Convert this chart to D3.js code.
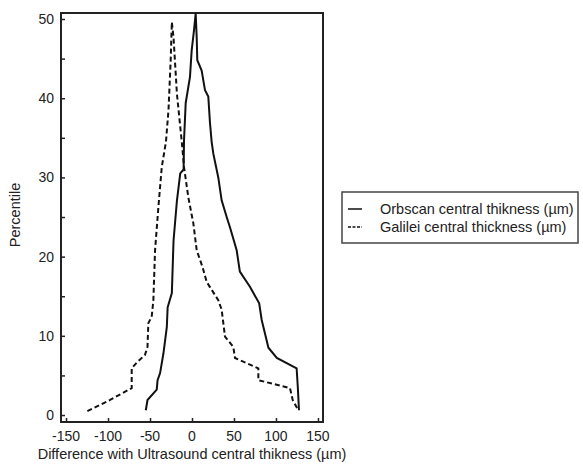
<!DOCTYPE html>
<html lang="en">
	<head>
		<meta charset="utf-8">
		<title>Mountain plot</title>
		<script type="text/javascript" src="https://d3js.org/d3.v7.min.js"></script>
		<style type="text/css">
		body { margin: 0; background: #fff; }
		text { font-family: "Liberation Sans", Arial, sans-serif; fill: #222; }
		</style>
	</head>
<body>
<script>

// data
var orbscanX = [-55, -53, -42, -41, -38, -34, -30, -29, -24, -22, -18, -14, -10, -9.5, -7.5, -2.4, -0.4, 2.4, 4.4,
                5.6, 6.3, 11.5, 15.5, 19.4, 21.4, 23.4, 25.4, 31.3, 35.3, 41.3, 45.2, 53.2, 57, 69, 80, 83, 91, 101, 124.6, 126, 127.4];
var orbscanY = [0.6, 1.9, 3.2, 4.4, 5.3, 7.8, 11.1, 13.6, 15.4, 22, 27, 30.5, 31, 34.7, 39.4, 42.7, 46, 48.6, 50.7,
                47.7, 44.8, 43.5, 41, 40.2, 36.9, 34.5, 33, 30, 27.1, 25, 23.7, 20.8, 18.1, 16.2, 14.1, 12, 8.5, 7.2, 5.9, 3.5, 0.6];

var galileiX = [-124.6, -97.6, -71.8, -71.8, -65.9, -56, -53, -52, -48, -46, -44, -40, -36, -31, -28, -25.4, -24,
                -22, -18, -12, -9.5, -4.4, 1.6, 5.6, 12.5, 17.5, 31.3, 35.3, 39.3, 49.2, 51.2, 79, 79, 116.7, 119.9, 126.6];
var galileiY = [0.5, 1.9, 3.4, 5.9, 6.6, 7.6, 8.6, 11.6, 12.4, 14.5, 20.8, 26.3, 31.3, 34.5, 38.5, 44.8, 49.6,
                47.7, 40.6, 34.3, 31.3, 27.5, 24.2, 20.8, 18.7, 16.8, 14.5, 13.3, 9.9, 8.6, 7.2, 5.9, 4.4, 3.4, 1.9, 0.6];

var xTicks = [-150, -100, -50, 0, 50, 100, 150];
var yTicks = [0, 10, 20, 30, 40, 50];
var yMinor = [5, 15, 25, 35, 45];

var seriesNames = ["Orbscan central thikness (\u00b5m)", "Galilei central thickness (\u00b5m)"];

var w = 583, h = 468;
var box = {left: 61, right: 323, top: 13, bottom: 422};

var x = d3.scaleLinear().domain([-156, 156]).range([box.left, box.right]);
var y = d3.scaleLinear().domain([-0.88, 50.76]).range([box.bottom, box.top]);

var svg = d3.select("body").append("svg")
    .attr("width", w)
    .attr("height", h);

// axes, ticks pointing inwards
svg.append("g")
    .attr("transform", "translate(0," + box.bottom + ")")
    .call(d3.axisTop(x).tickValues(xTicks).tickSize(4).tickFormat(""))
    .call(function(g) { g.select(".domain").remove(); g.selectAll("line").attr("stroke", "#222").attr("stroke-width", 1.5); });

svg.append("g")
    .selectAll("text")
    .data(xTicks)
    .enter().append("text")
    .attr("x", function(d) { return x(d); })
    .attr("y", 441)
    .attr("text-anchor", "middle")
    .style("font-size", "14px")
    .text(function(d) { return d < 0 ? "-" + Math.abs(d) : d; });

svg.append("g")
    .attr("transform", "translate(" + box.left + ",0)")
    .call(d3.axisRight(y).tickValues(yTicks.concat(yMinor)).tickSize(4).tickFormat(""))
    .call(function(g) { g.select(".domain").remove(); g.selectAll("line").attr("stroke", "#222").attr("stroke-width", 1.5); });

svg.append("g")
    .selectAll("text")
    .data(yTicks)
    .enter().append("text")
    .attr("x", 54)
    .attr("y", function(d) { return y(d) + 5; })
    .attr("text-anchor", "end")
    .style("font-size", "14px")
    .text(function(d) { return d; });

svg.append("rect")
    .attr("x", box.left)
    .attr("y", box.top)
    .attr("width", box.right - box.left)
    .attr("height", box.bottom - box.top)
    .style("fill", "none")
    .style("stroke", "#222")
    .style("stroke-width", 2);

// lines
var line = d3.line()
    .x(function(d) { return x(d[0]); })
    .y(function(d) { return y(d[1]); });

svg.append("path")
    .datum(d3.zip(orbscanX, orbscanY))
    .attr("d", line)
    .style("fill", "none")
    .style("stroke", "#111")
    .style("stroke-width", 2);

svg.append("path")
    .datum(d3.zip(galileiX, galileiY))
    .attr("d", line)
    .style("fill", "none")
    .style("stroke", "#111")
    .style("stroke-width", 2)
    .style("stroke-dasharray", "5,3");

// axis titles
svg.append("text")
    .attr("transform", "translate(20,215) rotate(-90)")
    .attr("text-anchor", "middle")
    .style("font-size", "14.5px")
    .text("Percentile");

svg.append("text")
    .attr("x", 192)
    .attr("y", 459)
    .attr("text-anchor", "middle")
    .style("font-size", "14.5px")
    .text("Difference with Ultrasound central thikness (\u00b5m)");

// legend
var lg = svg.append("g");
lg.append("rect")
    .attr("x", 342)
    .attr("y", 192)
    .attr("width", 236)
    .attr("height", 51)
    .style("fill", "#fff")
    .style("stroke", "#444")
    .style("stroke-width", 1.5);

seriesNames.forEach(function(name, i) {
  var ly = 209 + i * 18;
  lg.append("line")
      .attr("x1", 348).attr("x2", 362)
      .attr("y1", ly).attr("y2", ly)
      .style("stroke", "#111")
      .style("stroke-width", 1.5)
      .style("stroke-dasharray", i == 1 ? "3,1.5" : null);
  lg.append("text")
      .attr("x", 380)
      .attr("y", ly + 5)
      .style("font-size", "14.5px")
      .text(name);
});

</script>
</body>
</html>
